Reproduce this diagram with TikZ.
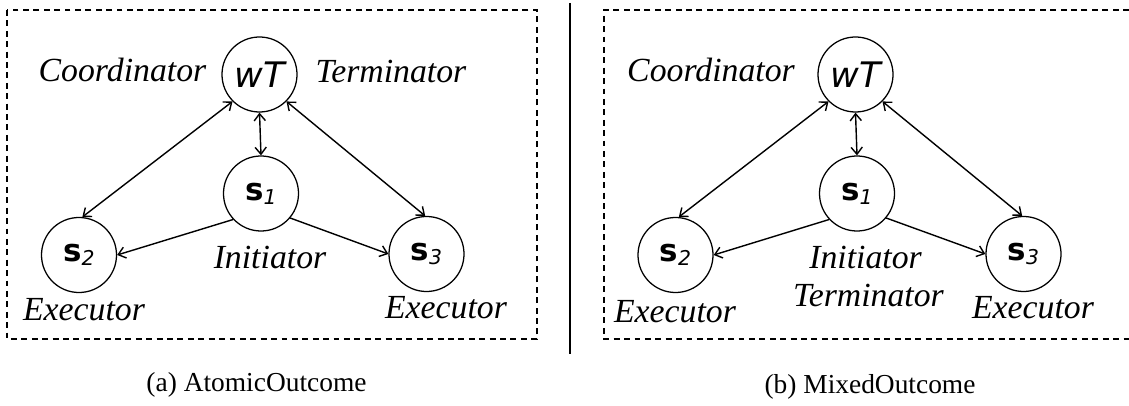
\documentclass[tikz,border=0pt]{standalone}
\usepackage{fontspec}
\setmainfont{Liberation Serif}
\newfontfamily\symfont{DejaVu Sans}
\usetikzlibrary{arrows.meta,
	positioning}
\tikzstyle{agent}=[draw, circle, line width=0.9pt, minimum size=1.875cm, inner sep=0,
		font=\symfont\fontsize{25}{25}\selectfont]
\tikzstyle{role}=[anchor=base, inner sep=0, font=\itshape\fontsize{24}{26}\selectfont]
\tikzstyle{subcap}=[anchor=base, inner sep=0, font=\fontsize{19.5}{21}\selectfont]
\tikzstyle{box}=[line width=0.9pt, dash pattern=on 4.2pt off 3.2pt]
\tikzstyle{link}=[line width=1pt, {Straight Barb[length=5pt,width=8pt]}-{Straight Barb[length=5pt,width=8pt]}]
\tikzstyle{send}=[line width=1pt, -{Straight Barb[length=5pt,width=8pt]}]
\newcommand{\wt}{{\itshape wT}}
\newcommand{\site}[1]{{\bfseries\fontsize{22}{22}\selectfont s}{\itshape\fontsize{14.5}{14.5}\selectfont\raisebox{-3pt}{#1}}}

\begin{document}
\begin{tikzpicture}[x=0.025cm, y=-0.025cm]
        \useasboundingbox (0,0) rectangle (1129,406);
        % (a) AtomicOutcome
        \draw[box] (7,10) rectangle (537,339);
        \node[agent] (wTa) at (259.5,74.5) {\wt};
        \node[agent] (s1a) at (261,193.5) {\site{1}};
        \node[agent] (s2a) at (79,255) {\site{2}};
        \node[agent] (s3a) at (426.5,254) {\site{3}};
        \draw[link] (wTa.south) -- (s1a.north);
        \draw[link] (wTa.225) -- (s2a.85);
        \draw[link] (wTa.-45) -- (s3a.92);
        \draw[send] (s1a.223) -- (s2a.east);
        \draw[send] (s1a.-40) -- (s3a.west);
        \node[role] (coa) at (122.5,82) {Coordinator};
        \node[role] (tea) at (391,83) {Terminator};
        \node[role] (ina) at (270,268) {Initiator};
        \node[role] (e2a) at (84,320) {Executor};
        \node[role] (e3a) at (446,318) {Executor};
        \node[subcap] (capa) at (256.5,391) {(a) AtomicOutcome};
        % separator
        \coordinate (septop) at (570,3);
        \coordinate (sepbot) at (570,354);
        \draw[line width=1pt] (septop) -- (sepbot);
        % (b) MixedOutcome
        \draw[box] (1129,10) -- (604,10) -- (604,339) -- (1129,339);
        \node[agent] (wTb) at (855.5,74.5) {\wt};
        \node[agent] (s1b) at (857,193.5) {\site{1}};
        \node[agent] (s2b) at (675.5,255) {\site{2}};
        \node[agent] (s3b) at (1023.5,254) {\site{3}};
        \draw[link] (wTb.south) -- (s1b.north);
        \draw[link] (wTb.225) -- (s2b.85);
        \draw[link] (wTb.-45) -- (s3b.92);
        \draw[send] (s1b.223) -- (s2b.east);
        \draw[send] (s1b.-40) -- (s3b.west);
        \node[role] (cob) at (711,82) {Coordinator};
        \node[role] (inb) at (865.5,268) {Initiator};
        \node[role] (teb) at (868.5,306) {Terminator};
        \node[role] (e2b) at (675,322) {Executor};
        \node[role] (e3b) at (1033,318) {Executor};
        \node[subcap] (capb) at (870,393) {(b) MixedOutcome};
    \end{tikzpicture}
\end{document}
